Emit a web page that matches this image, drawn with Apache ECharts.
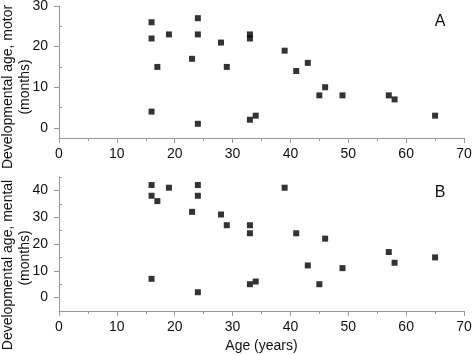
<!DOCTYPE html>
<html>
<head>
<meta charset="utf-8">
<script src="https://cdn.jsdelivr.net/npm/echarts@6/dist/echarts.min.js"></script>
<style>
  html, body { margin: 0; padding: 0; background: #fff; }
  #chart { width: 472px; height: 355px; }
</style>
</head>
<body>
<div id="chart"></div>
<script>
// age (years) and developmental age (months) per subject
const motorPoints = [
  [16, 26], [16, 22], [16, 4], [17, 15], [19, 23], [23, 17], [24, 27], [24, 23],
  [24, 1], [28, 21], [29, 15], [33, 22], [33, 23], [33, 2], [34, 3], [39, 19],
  [41, 14], [43, 16], [45, 8], [46, 10], [49, 8], [57, 8], [58, 7], [65, 3],
];
const mentalPoints = [
  [16, 42], [16, 38], [16, 7], [17, 36], [19, 41], [23, 32], [24, 42], [24, 38],
  [24, 2], [28, 31], [29, 27], [33, 27], [33, 24], [33, 5], [34, 6], [39, 41],
  [41, 24], [43, 12], [45, 5], [46, 22], [49, 11], [57, 17], [58, 13], [65, 15],
];
const motorTicks = [0, 10, 20, 30];
const motorMinor = [5, 15, 25];
const mentalTicks = [0, 10, 20, 30, 40];
const mentalMinor = [-5, 5, 15, 25, 35, 45];

const axisColor = '#9a9a9a';
const font = 'Liberation Sans, Arial, sans-serif';

const chart = echarts.init(document.getElementById('chart'), null, { renderer: 'canvas' });

const xAxisBase = (gridIndex, withName) => ({
  type: 'value', gridIndex, min: 0, max: 70, interval: 10,
  axisLine: { show: true, onZero: false, lineStyle: { color: axisColor } },
  axisTick: { show: true, length: 5, inside: false, lineStyle: { color: axisColor } },
  minorTick: { show: true, splitNumber: 2, length: 3, lineStyle: { color: axisColor } },
  axisLabel: { color: '#111', fontSize: 14, fontFamily: font, margin: 9 },
  splitLine: { show: false },
  name: withName ? 'Age (years)' : '',
  nameLocation: 'middle', nameGap: 28,
  nameTextStyle: { color: '#111', fontSize: 14, fontFamily: font },
});

const yMajor = (gridIndex, min, max, ticks) => ({
  type: 'value', gridIndex, min, max,
  axisLine: { show: true, onZero: false, lineStyle: { color: axisColor } },
  axisTick: { show: true, length: 5, customValues: ticks, lineStyle: { color: axisColor } },
  axisLabel: { color: '#111', fontSize: 14, fontFamily: font, margin: 11, customValues: ticks },
  splitLine: { show: false },
});

const yMinor = (gridIndex, min, max, ticks) => ({
  type: 'value', gridIndex, min, max,
  axisLine: { show: false },
  axisTick: { show: true, length: 3, customValues: ticks, lineStyle: { color: axisColor } },
  axisLabel: { show: false },
  splitLine: { show: false },
});

const vText = (text, x, y) => ({
  type: 'text', x, y, rotation: Math.PI / 2,
  style: { text, fontSize: 14, fontFamily: font, fill: '#111', align: 'center', verticalAlign: 'middle' },
});

chart.setOption({
  animation: false,
  grid: [
    { left: 59, right: 8, top: 6, height: 132, outerBoundsMode: 'none' },
    { left: 59, right: 8, top: 177, height: 134, outerBoundsMode: 'none' },
  ],
  xAxis: [xAxisBase(0, false), xAxisBase(1, true)],
  yAxis: [
    yMajor(0, -2.5, 30, motorTicks),
    yMajor(1, -5, 45, mentalTicks),
    yMinor(0, -2.5, 30, motorMinor),
    yMinor(1, -5, 45, mentalMinor),
  ],
  graphic: [
    vText('Developmental age, motor', 8, 87),
    vText('(months)', 25, 87),
    vText('Developmental age, mental', 8, 265),
    vText('(months)', 25, 258),
    { type: 'text', x: 440, y: 22, style: { text: 'A', fontSize: 16, fontFamily: font, fill: '#111', align: 'center', verticalAlign: 'middle' } },
    { type: 'text', x: 440, y: 193, style: { text: 'B', fontSize: 16, fontFamily: font, fill: '#111', align: 'center', verticalAlign: 'middle' } },
  ],
  series: [
    {
      type: 'scatter', xAxisIndex: 0, yAxisIndex: 0, data: motorPoints,
      symbol: 'rect', symbolSize: 6, itemStyle: { color: '#000' },
    },
    {
      type: 'scatter', xAxisIndex: 1, yAxisIndex: 1, data: mentalPoints,
      symbol: 'rect', symbolSize: 6, itemStyle: { color: '#000' },
    },
  ],
});
</script>
</body>
</html>
